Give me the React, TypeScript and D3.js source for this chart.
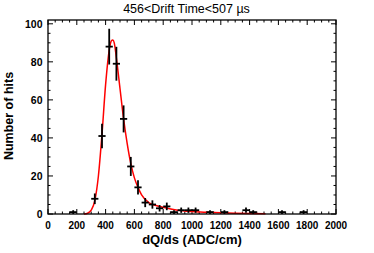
import React from 'react';
import * as d3 from 'd3';

// binned hits, bin width 50 ADC/cm
const binCenters = [175, 325, 375, 425, 475, 525, 575, 625, 675, 725, 775, 825, 875, 925, 975, 1025, 1125, 1225, 1375, 1425, 1625, 1775];
const counts = [1, 8, 41, 88, 79, 50, 25, 14, 6, 5, 3, 4, 1, 2, 2, 2, 1, 1, 2, 1, 1, 1];
const errors = [1, 2.8, 6.4, 9.4, 8.9, 7.1, 5, 3.7, 2.4, 2.2, 1.7, 2, 1, 1.4, 1.4, 1.4, 1, 1, 1.4, 1, 1, 1];

// fitted curve
const fitX = [250, 275, 300, 325, 350, 375, 400, 425, 440, 450, 460, 475, 500, 525, 550, 575, 600, 625, 650, 700, 750, 800, 900, 1000, 1100, 1200, 1300, 1400, 1510];
const fitY = [0, 0.4, 2, 7, 20, 42, 68, 86, 91, 91.5, 90, 82, 66, 50, 37, 26.5, 19, 14, 10, 6, 4.5, 3.5, 2, 1.3, 0.9, 0.6, 0.4, 0.25, 0.15];

const xMajor = [0, 200, 400, 600, 800, 1000, 1200, 1400, 1600, 1800, 2000];
const yMajor = [0, 20, 40, 60, 80, 100];

const W = 374;
const H = 253;
const M = { top: 20, right: 38, bottom: 39, left: 48 };
const FONT = '"Liberation Sans", Arial, Helvetica, sans-serif';

export default function App() {
  const x = d3.scaleLinear().domain([0, 2000]).range([M.left, W - M.right]);
  const y = d3.scaleLinear().domain([0, 102]).range([H - M.bottom, M.top]);
  const x0 = M.left, x1 = W - M.right, y0 = H - M.bottom, y1 = M.top;

  const xMinor = d3.range(0, 2001, 50);
  const yMinor = d3.range(0, 102, 5);

  const fitLine = d3.line<number>()
    .x((_, i) => x(fitX[i]))
    .y(d => y(d))
    .curve(d3.curveMonotoneX);

  return (
    <div style={{ position: 'fixed', left: 0, top: 0 }}>
      <svg width={W} height={H} style={{ display: 'block', background: '#fff' }}>
        <text x={186.5} y={12.5} textAnchor="middle" fontFamily={FONT} fontSize={12.5} fill="#000">
          456&lt;Drift Time&lt;507 µs
        </text>

        {xMinor.map(v => {
          const big = v % 200 === 0;
          const len = big ? 5 : 2.5;
          return (
            <g key={'xt' + v} stroke="#000" strokeWidth={1}>
              <line x1={x(v)} x2={x(v)} y1={y0} y2={y0 - len} />
              <line x1={x(v)} x2={x(v)} y1={y1} y2={y1 + len} />
            </g>
          );
        })}
        {yMinor.map(v => {
          const big = v % 20 === 0;
          const len = big ? 5 : 2.5;
          return (
            <g key={'yt' + v} stroke="#000" strokeWidth={1}>
              <line x1={x0} x2={x0 + len} y1={y(v)} y2={y(v)} />
              <line x1={x1} x2={x1 - len} y1={y(v)} y2={y(v)} />
            </g>
          );
        })}

        {xMajor.map(v => (
          <text key={'xl' + v} x={x(v)} y={229} textAnchor="middle" fontFamily={FONT} fontWeight="bold" fontSize={10}>
            {v}
          </text>
        ))}
        {yMajor.map(v => (
          <text key={'yl' + v} x={42.5} y={y(v) + 3.7} textAnchor="end" fontFamily={FONT} fontWeight="bold" fontSize={10.5}>
            {v}
          </text>
        ))}

        <text x={192} y={244} textAnchor="middle" fontFamily={FONT} fontWeight="bold" fontSize={13}>
          dQ/ds (ADC/cm)
        </text>
        <text transform="translate(13,116) rotate(-90)" textAnchor="middle" fontFamily={FONT} fontWeight="bold" fontSize={12.5}>
          Number of hits
        </text>

        <path d={fitLine(fitY) ?? ''} fill="none" stroke="#ff0000" strokeWidth={1.5} />

        {binCenters.map((c, i) => (
          <g key={'p' + c} stroke="#000" strokeWidth={1.8}>
            <line x1={x(c - 25)} x2={x(c + 25)} y1={y(counts[i])} y2={y(counts[i])} />
            <line x1={x(c)} x2={x(c)} y1={y(Math.max(0, counts[i] - errors[i]))} y2={y(counts[i] + errors[i])} />
          </g>
        ))}

        <rect x={x0} y={y1} width={x1 - x0} height={y0 - y1} fill="none" stroke="#000" strokeWidth={1.3} />
      </svg>
    </div>
  );
}
